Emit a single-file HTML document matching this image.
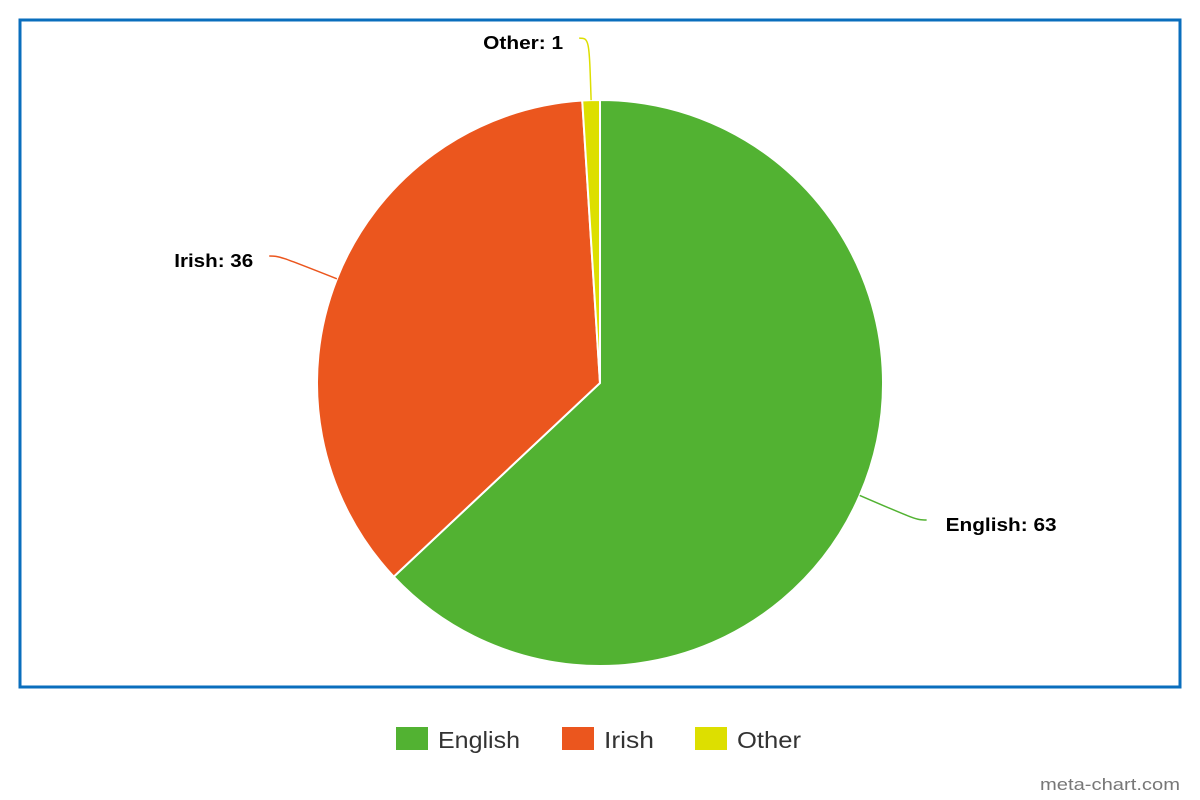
<!DOCTYPE html>
<html><head><meta charset="utf-8"><style>
html,body{margin:0;padding:0;background:#fff;width:1200px;height:800px;overflow:hidden}
svg{display:block;font-family:"Liberation Sans",sans-serif}
</style></head><body>
<svg id="chart" width="1200" height="800">
<rect x="20" y="20" width="1160" height="667" fill="#fff" stroke="#0a6ebd" stroke-width="3"/>
<g id="slices"></g>
<g id="labels"></g>
<g id="legend"></g>
<text x="1180" y="790" text-anchor="end" font-size="17" fill="#777" textLength="140" lengthAdjust="spacingAndGlyphs">meta-chart.com</text>
</svg>
<script>
const categories = ["English", "Irish", "Other"];
const values = [63, 36, 1];
const colors = ["#52b232", "#eb561e", "#dddf00"];
const labelWidths = [111, 79, 80];
const legendWidths = [82, 50, 64];

const NS = "http://www.w3.org/2000/svg";
const cx = 600, cy = 383, r = 283;
const total = values.reduce((a, b) => a + b, 0);
function pt(a, rad) { return [cx + rad * Math.sin(a), cy - rad * Math.cos(a)]; }
const sg = document.getElementById('slices'), lg = document.getElementById('labels'), leg = document.getElementById('legend');
let acc = 0;
values.forEach((v, i) => {
  const a0 = acc / total * 2 * Math.PI; acc += v;
  const a1 = acc / total * 2 * Math.PI;
  const p0 = pt(a0, r), p1 = pt(a1, r);
  const large = (a1 - a0) > Math.PI ? 1 : 0;
  const path = document.createElementNS(NS, 'path');
  path.setAttribute('d', `M${cx},${cy} L${p0[0]},${p0[1]} A${r},${r} 0 ${large} 1 ${p1[0]},${p1[1]} Z`);
  path.setAttribute('fill', colors[i]);
  path.setAttribute('stroke', '#fff');
  path.setAttribute('stroke-width', '2');
  
  
  sg.appendChild(path);
  const am = (a0 + a1) / 2;
  const s = pt(am, r), e = pt(am, r + 62);
  const right = Math.sin(am) >= 0;
  const ex = e[0] + (right ? 1 : -1) * 10;
  const conn = document.createElementNS(NS, 'path');
  conn.setAttribute('d', `M${s[0]},${s[1]} C${e[0]},${e[1]} ${e[0]},${e[1]} ${ex},${e[1]}`);
  conn.setAttribute('fill', 'none');
  conn.setAttribute('stroke', colors[i]);
  conn.setAttribute('stroke-width', '1.5');
  
  
  lg.appendChild(conn);
  const t = document.createElementNS(NS, 'text');
  t.setAttribute('x', ex + (right ? 19 : -16));
  t.setAttribute('y', e[1] + 11);
  t.setAttribute('text-anchor', right ? 'start' : 'end');
  t.setAttribute('font-size', '18');
  t.setAttribute('font-weight', 'bold');
  t.setAttribute('fill', '#000');
  t.setAttribute('textLength', labelWidths[i]);
  t.setAttribute('lengthAdjust', 'spacingAndGlyphs');
  t.textContent = categories[i] + ': ' + v;
  
  
  lg.appendChild(t);
});
const legX = [396, 562, 695];
categories.forEach((c, i) => {
  const g = document.createElementNS(NS, 'g');
  
  
  const rc = document.createElementNS(NS, 'rect');
  rc.setAttribute('x', legX[i]); rc.setAttribute('y', 727);
  rc.setAttribute('width', 32); rc.setAttribute('height', 23);
  rc.setAttribute('fill', colors[i]);
  g.appendChild(rc);
  const t = document.createElementNS(NS, 'text');
  t.setAttribute('x', legX[i] + 42); t.setAttribute('y', 748);
  t.setAttribute('font-size', '23'); t.setAttribute('fill', '#333');
  t.setAttribute('textLength', legendWidths[i]);
  t.setAttribute('lengthAdjust', 'spacingAndGlyphs');
  t.textContent = c;
  g.appendChild(t);
  leg.appendChild(g);
});
</script>
</body></html>
